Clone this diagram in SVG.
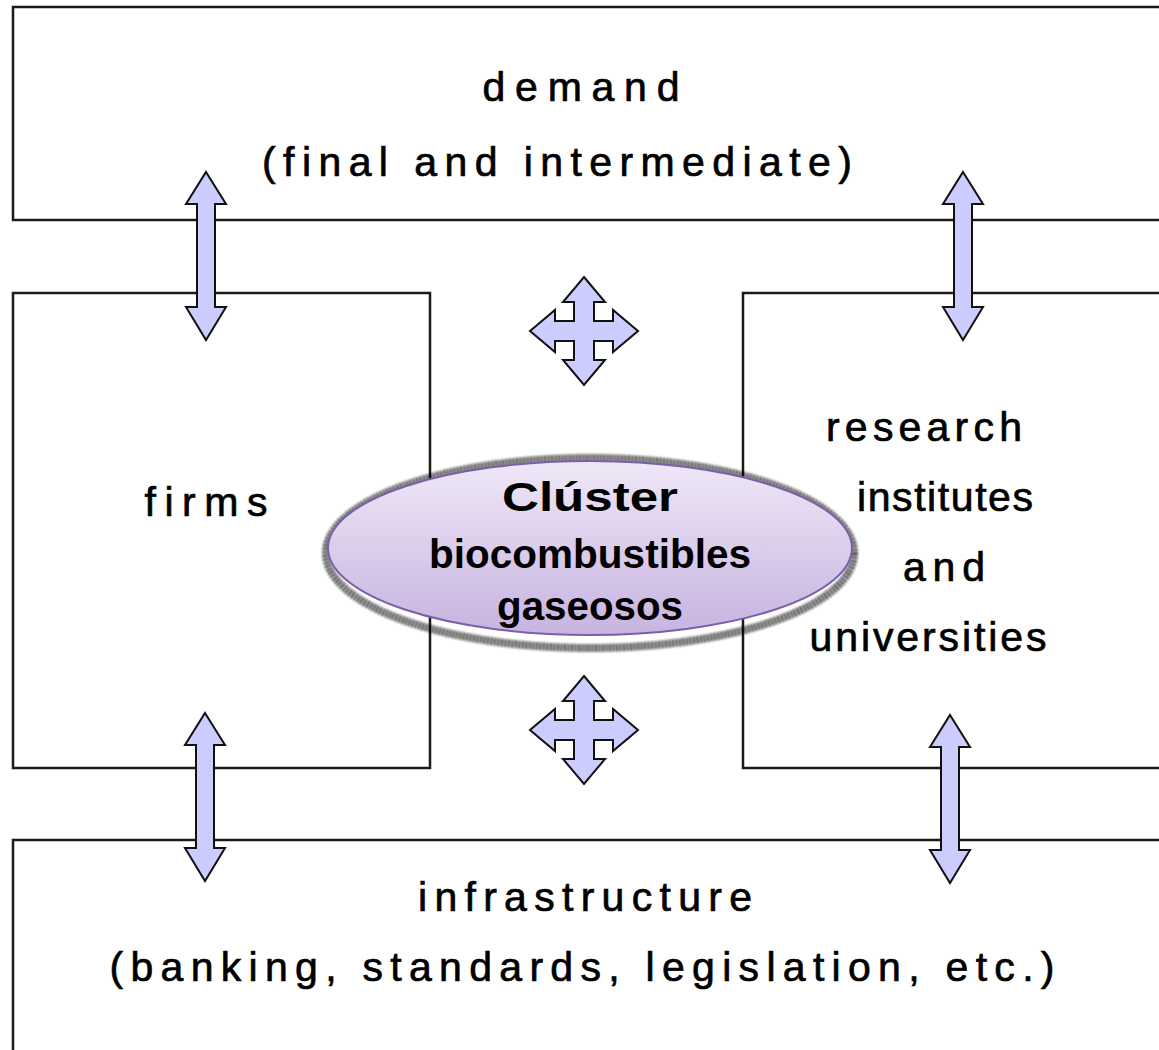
<svg xmlns="http://www.w3.org/2000/svg" width="1159" height="1050" viewBox="0 0 1159 1050">
<style>
.box{fill:#fff;stroke:#1a1a1a;stroke-width:2.5}
.lbl{font-family:"Liberation Sans",Arial,sans-serif;font-size:41px;fill:#000;stroke:#000;stroke-width:0.7;text-anchor:middle}
.arr{fill:#ccccff;stroke:#111;stroke-width:2;stroke-linejoin:miter}
.ct{font-family:"Liberation Sans",Arial,sans-serif;font-weight:bold;font-size:40px;fill:#000;text-anchor:middle}
</style>
<defs>
<linearGradient id="eg" x1="0" y1="0" x2="0" y2="1">
<stop offset="0" stop-color="#efe8f7"/>
<stop offset="1" stop-color="#c7b3e0"/>
</linearGradient>
<filter id="bl" x="-10%" y="-20%" width="120%" height="140%"><feGaussianBlur stdDeviation="1.2"/></filter>
<path id="dbl" d="M0,0 L20,32 L9,32 L9,135 L20,135 L0,168 L-20,135 L-9,135 L-9,32 L-20,32 Z"/>
<path id="quad" d="M0,-54 L21,-29 L10,-29 L10,-10 L29,-10 L29,-21 L54,0 L29,21 L29,10 L10,10 L10,29 L21,29 L0,54 L-21,29 L-10,29 L-10,10 L-29,10 L-29,21 L-54,0 L-29,-21 L-29,-10 L-10,-10 L-10,-29 L-21,-29 Z"/>
</defs>
<rect width="1159" height="1050" fill="#fff"/>
<g id="demand">
<rect class="box" x="13" y="7" width="1170" height="213"/>
<text class="lbl" x="581" y="101" textLength="197" lengthAdjust="spacing">demand</text>
<text class="lbl" x="557" y="176" textLength="590" lengthAdjust="spacing">(final and intermediate)</text>
</g>
<g id="firms">
<rect class="box" x="13" y="293" width="417" height="475"/>
<text class="lbl" x="206" y="516" textLength="123" lengthAdjust="spacing">firms</text>
</g>
<g id="research">
<rect class="box" x="743" y="293" width="440" height="475"/>
<text class="lbl" x="924" y="441" textLength="196" lengthAdjust="spacing">research</text>
<text class="lbl" x="945" y="511" textLength="176" lengthAdjust="spacing">institutes</text>
<text class="lbl" x="944" y="581" textLength="82" lengthAdjust="spacing">and</text>
<text class="lbl" x="928" y="651" textLength="237" lengthAdjust="spacing">universities</text>
</g>
<g id="infrastructure">
<rect class="box" x="13" y="840" width="1170" height="230"/>
<text class="lbl" x="585" y="911" textLength="334" lengthAdjust="spacing">infrastructure</text>
<text class="lbl" x="582" y="981" textLength="945" lengthAdjust="spacing">(banking, standards, legislation, etc.)</text>
</g>
<g id="connectors">
<use href="#dbl" class="arr" transform="translate(206,172)"/>
<use href="#dbl" class="arr" transform="translate(963,172)"/>
<use href="#dbl" class="arr" transform="translate(205,713)"/>
<use href="#dbl" class="arr" transform="translate(950,715)"/>
<use href="#quad" class="arr" transform="translate(584,331)"/>
<use href="#quad" class="arr" transform="translate(584,730)"/>
</g>
<g id="cluster">
<ellipse cx="590" cy="553" rx="264" ry="95" fill="none" stroke="#000" stroke-width="8" stroke-dasharray="2 1.5" opacity="0.85" filter="url(#bl)"/>
<ellipse cx="590" cy="548" rx="262" ry="87" fill="url(#eg)" stroke="#7b5fa8" stroke-width="2"/>
<text class="ct" x="590" y="511" textLength="176" lengthAdjust="spacingAndGlyphs">Clúster</text>
<text class="ct" x="590" y="568" textLength="322" lengthAdjust="spacingAndGlyphs">biocombustibles</text>
<text class="ct" x="590" y="620" textLength="186" lengthAdjust="spacingAndGlyphs">gaseosos</text>
</g>
</svg>
